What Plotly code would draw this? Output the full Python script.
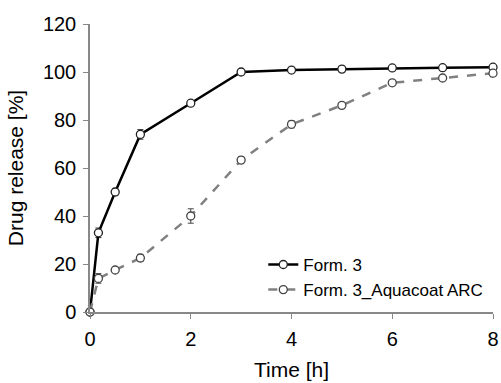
import plotly.graph_objects as go

time_h = [0, 0.167, 0.5, 1, 2, 3, 4, 5, 6, 7, 8]
form3 = [0, 33, 50, 74, 87, 100, 100.8, 101.2, 101.7, 101.8, 102]
form3_err = [0, 2, 1.5, 2, 1, 0.8, 0.8, 0.8, 0.8, 0.8, 0.8]
aqua = [0, 14, 17.5, 22.5, 40, 63.3, 78.2, 86.1, 95.5, 97.5, 99.5]
aqua_err = [0, 2, 1, 1.5, 3, 1.5, 1.5, 1, 1, 1, 1.5]
names = ["Form. 3", "Form. 3_Aquacoat ARC"]

fig = go.Figure()
fig.add_trace(go.Scatter(
    x=time_h, y=form3, name=names[0], mode="lines+markers",
    line=dict(color="black", width=2.5),
    marker=dict(symbol="circle", size=8, color="white", line=dict(color="#222", width=1.3)),
    error_y=dict(type="data", array=form3_err, color="#333", thickness=1, width=3),
    cliponaxis=False,
))
fig.add_trace(go.Scatter(
    x=time_h, y=aqua, name=names[1], mode="lines+markers",
    line=dict(color="#808080", width=2.5, dash="dash"),
    marker=dict(symbol="circle", size=8, color="white", line=dict(color="#444", width=1.3)),
    error_y=dict(type="data", array=aqua_err, color="#444", thickness=1, width=3),
    cliponaxis=False,
))

font = "Liberation Sans, Arial, sans-serif"
fig.update_layout(
    width=501, height=383,
    margin=dict(l=90, r=8, t=24, b=71),
    plot_bgcolor="white", paper_bgcolor="white",
    font=dict(family=font, color="black"),
    showlegend=True,
    legend=dict(x=0.43, y=0.12, xanchor="left", yanchor="middle",
                font=dict(size=17), bgcolor="rgba(0,0,0,0)",
                tracegroupgap=0, itemwidth=30),
    xaxis=dict(range=[0, 8], tickvals=[0, 2, 4, 6, 8], showgrid=False, zeroline=False,
               showline=True, linecolor="#888", linewidth=1.5, ticks="outside",
               ticklen=5, tickcolor="#888", tickfont=dict(size=20), ticklabelstandoff=3,
               automargin=False,
               title=dict(text="Time [h]", font=dict(size=21), standoff=14)),
    yaxis=dict(range=[0, 120], tickvals=[0, 20, 40, 60, 80, 100, 120], showgrid=False,
               zeroline=False, showline=True, linecolor="#888", linewidth=1.5,
               ticks="outside", ticklen=5, tickcolor="#888", tickfont=dict(size=20),
               ticklabelstandoff=3, automargin=False,
               title=dict(text="Drug release [%]", font=dict(size=21), standoff=14)),
)
fig.write_html("out.html")
